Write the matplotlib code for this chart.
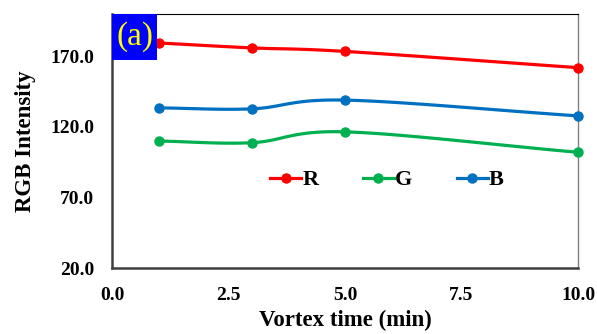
import matplotlib.pyplot as plt
from matplotlib.patches import Rectangle
import numpy as np

time_min = [1, 3, 5, 10]
r_vals = [179.5, 176.0, 173.5, 162.0]
g_vals = [110.0, 108.8, 116.5, 102.0]
b_vals = [133.5, 132.8, 139.0, 127.8]
x_ticks = [0.0, 2.5, 5.0, 7.5, 10.0]
y_ticks = [20.0, 70.0, 120.0, 170.0]


def smooth(x, y, n=40):
    # catmull-rom style smoothing like Excel's smoothed line
    x = np.asarray(x, float)
    y = np.asarray(y, float)
    px = np.concatenate([[2 * x[0] - x[1]], x, [2 * x[-1] - x[-2]]])
    py = np.concatenate([[2 * y[0] - y[1]], y, [2 * y[-1] - y[-2]]])
    xs, ys = [], []
    for i in range(1, len(px) - 2):
        t = np.linspace(0, 1, n)
        for arr, out in ((px, xs), (py, ys)):
            p0, p1, p2, p3 = arr[i - 1], arr[i], arr[i + 1], arr[i + 2]
            out.extend(0.5 * ((2 * p1) + (-p0 + p2) * t +
                              (2 * p0 - 5 * p1 + 4 * p2 - p3) * t ** 2 +
                              (-p0 + 3 * p1 - 3 * p2 + p3) * t ** 3))
    return xs, ys


plt.rcParams['font.family'] = ['Liberation Serif', 'DejaVu Serif']
plt.rcParams['font.weight'] = 'bold'

fig = plt.figure(figsize=(5.97, 3.34), dpi=100)
ax = fig.add_axes([0.1876, 0.1976, 0.7806, 0.7604])

series = [('R', r_vals, '#FF0000'), ('G', g_vals, '#00B050'), ('B', b_vals, '#0070C0')]
for name, vals, col in series:
    sx, sy = smooth(time_min, vals)
    ax.plot(sx, sy, color=col, lw=2.3, solid_capstyle='round', clip_on=False)
    ax.plot(time_min, vals, 'o', color=col, ms=6.5, clip_on=False, zorder=3)
    ax.plot([], [], '-o', color=col, lw=2.3, ms=6.5, label=name)

ax.set_xlim(0, 10)
ax.set_ylim(20, 200)
ax.set_xticks(x_ticks)
ax.set_xticklabels([f'{v:.1f}' for v in x_ticks])
ax.set_yticks(y_ticks)
ax.set_yticklabels([f'{v:.1f}' for v in y_ticks])
ax.tick_params(length=0, labelsize=14)
ax.tick_params(axis='y', pad=13)
ax.tick_params(axis='x', pad=14)
for lab in ax.get_xticklabels() + ax.get_yticklabels():
    lab.set_fontweight('bold')

ax.set_xlabel('Vortex time (min)', fontsize=16.5, fontweight='bold', labelpad=4)
ax.set_ylabel('RGB Intensity', fontsize=16.5, fontweight='bold', labelpad=10)

ax.spines['left'].set_color('#404040')
ax.spines['left'].set_linewidth(1.8)
ax.spines['bottom'].set_color('#404040')
ax.spines['bottom'].set_linewidth(1.8)
ax.spines['top'].set_color('black')
ax.spines['top'].set_linewidth(0.8)
ax.spines['right'].set_color('#808080')
ax.spines['right'].set_linewidth(1.0)

leg = ax.legend(loc='center', bbox_to_anchor=(0.59, 0.346), ncol=3, frameon=False,
                fontsize=16, handlelength=1.4, handletextpad=0.05, columnspacing=2.0)
for t in leg.get_texts():
    t.set_fontweight('bold')

ax.add_patch(Rectangle((0, 1 - 0.181), 0.0966, 0.181, transform=ax.transAxes,
                       fc='#0000FF', ec='none', zorder=4, clip_on=False))
ax.text(0.0483, 1 - 0.0905, '(a)', transform=ax.transAxes, ha='center', va='center',
        fontsize=24, fontweight='normal', color='#FFFF00', zorder=5)

fig.savefig('out.png', dpi=100)
